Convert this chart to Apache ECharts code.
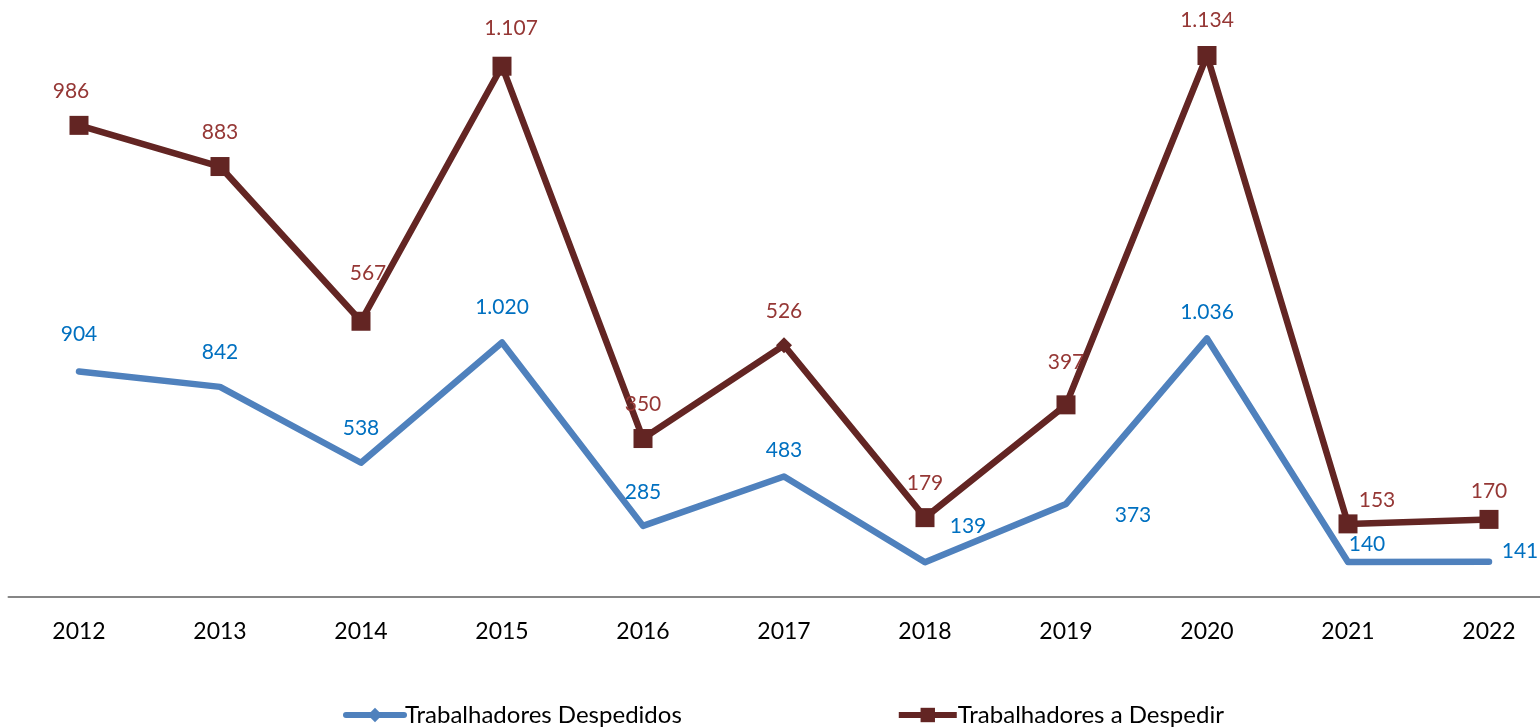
<!DOCTYPE html>
<html>
<head>
<meta charset="utf-8">
<script src="https://cdn.jsdelivr.net/npm/echarts@6/dist/echarts.min.js"></script>
<style>
  html, body { margin: 0; padding: 0; background: #fff; }
  #chart { width: 1540px; height: 728px; }
</style>
</head>
<body>
<div id="chart"></div>
<script>
const years = ["2012", "2013", "2014", "2015", "2016", "2017", "2018", "2019", "2020", "2021", "2022"];
const despedidos = [904, 842, 538, 1020, 285, 483, 139, 373, 1036, 140, 141];
const aDespedir = [986, 883, 567, 1107, 350, 526, 179, 397, 1134, 153, 170];

// label nudges, copied from where the original labels sit
const blueOffsets = [[0, -37], [0, -35], [0, -35], [0, -35], [0, -34], [0, -26], [43, -36], [67, 11], [0, -26], [19, -18], [31, -11]];
const redOffsets = [[-8, -34], [0, -34], [7, -48], [9, -38], [0, -34], [0, -34], [0, -34], [0, -43], [0, -35], [29, -24], [0, -28]];

const font = "Lato, 'Noto Sans', sans-serif";
// portuguese thousands separator
const fmt = (p) => String(p.value).replace(/\B(?=(\d{3})+(?!\d))/g, ".");

const chart = echarts.init(document.getElementById("chart"));

chart.setOption({
  animation: false,
  grid: { left: 8.5, width: 1551, top: 48, bottom: 131, outerBoundsMode: "none" },
  legend: {
    left: 338,
    top: 698,
    itemWidth: 58,
    itemHeight: 18,
    itemGap: 214,
    lineStyle: { width: 6 },
    textStyle: { fontFamily: font, fontSize: 24, color: "#000", padding: [0, 0, 0, -4] },
    data: ["Trabalhadores Despedidos", "Trabalhadores a Despedir"],
  },
  xAxis: {
    type: "category",
    data: years,
    boundaryGap: true,
    axisLine: { lineStyle: { color: "#868686", width: 2 } },
    axisTick: { show: false },
    axisLabel: { fontFamily: font, fontSize: 23, color: "#000", margin: 23 },
  },
  yAxis: {
    type: "value",
    min: 0,
    max: 2200,
    show: false,
    splitLine: { show: false },
  },
  series: [
    {
      name: "Trabalhadores Despedidos",
      type: "line",
      stack: "total",
      symbol: "diamond",
      symbolSize: 14,
      itemStyle: { color: "#4F81BD" },
      lineStyle: { color: "#4F81BD", width: 6.5, cap: "round", join: "round" },
      data: despedidos.map((v, i) => ({
        value: v,
        symbolSize: 0,
        label: { offset: blueOffsets[i] },
      })),
      label: {
        show: true,
        position: "inside",
        fontFamily: font,
        fontSize: 21,
        color: "#0070C0",
        formatter: fmt,
      },
      z: 2,
    },
    {
      name: "Trabalhadores a Despedir",
      type: "line",
      stack: "total",
      symbol: "rect",
      symbolSize: 19,
      itemStyle: { color: "#632523" },
      lineStyle: { color: "#632523", width: 6.5, join: "round" },
      data: aDespedir.map((v, i) => {
        const d = { value: v, label: { offset: redOffsets[i] } };
        if (i === 5) {
          d.symbol = "diamond";
          d.symbolSize = 16;
        }
        return d;
      }),
      label: {
        show: true,
        position: "inside",
        fontFamily: font,
        fontSize: 21,
        color: "#953735",
        formatter: fmt,
      },
      z: 3,
    },
  ],
});
</script>
</body>
</html>
